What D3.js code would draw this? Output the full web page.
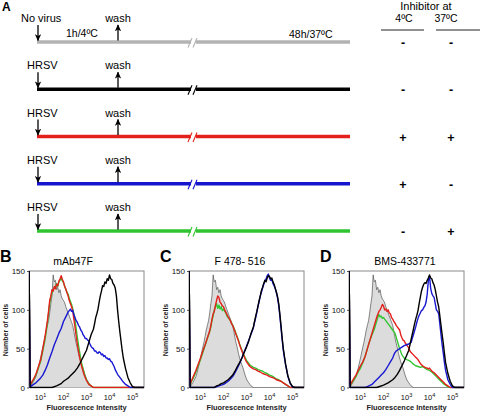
<!DOCTYPE html>
<html><head><meta charset="utf-8">
<script src="https://cdn.jsdelivr.net/npm/d3@7"></script>
<style>body{margin:0;background:#fff}svg{display:block;font-family:"Liberation Sans",Arial,sans-serif}</style>
</head><body><svg id="c" width="480" height="412"></svg>
<script>
// ---------- Panel A data ----------
const rowLabels = ["No virus","HRSV","HRSV","HRSV","HRSV"];
const inhib4 = ["-","-","+","+","-"];
const inhib37 = ["-","-","+","-","+"];
const rowColors = ["#b3b3b3","#000000","#e3201c","#1616cf","#2fc42f"];

// ---------- Panels B-D data ----------
const panelLetters = ["B","C","D"];
const panelTitles = ["mAb47F","F 478- 516","BMS-433771"];
const yTicks = [0,50,100,150];
const xExponents = [1,2,3,4,5];

// [log10 intensity, number of cells]
const control = [[0.55,0],[0.6,3],[0.7,8],[0.8,14],[0.85,19],[0.9,25],[1.0,38],[1.1,52],[1.15,58],[1.2,66],[1.25,74],[1.3,80],[1.35,86],[1.4,96],[1.45,108],[1.5,118],[1.55,145],[1.6,136],[1.65,138],[1.7,126],[1.75,129],[1.8,122],[1.85,126],[1.9,118],[1.95,114],[2.0,112],[2.05,109],[2.1,104],[2.15,100],[2.2,96],[2.25,92],[2.3,88],[2.35,84],[2.4,80],[2.45,72],[2.5,64],[2.55,57],[2.6,51],[2.65,44],[2.7,38],[2.75,33],[2.8,29],[2.85,25],[2.9,20],[2.95,15],[3.0,11],[3.05,8],[3.1,6],[3.15,4],[3.2,2],[3.3,0]];

const blackB = [[0.5,170],[0.55,0],[1.5,0],[1.7,2],[1.9,5],[2.0,8],[2.1,10],[2.2,12],[2.3,15],[2.4,18],[2.5,21],[2.6,25],[2.7,30],[2.8,36],[2.9,42],[3.0,48],[3.1,58],[3.2,68],[3.3,75],[3.35,82],[3.4,90],[3.45,95],[3.5,101],[3.55,110],[3.6,118],[3.65,124],[3.7,131],[3.75,130],[3.8,136],[3.85,134],[3.9,140],[3.95,138],[4.0,145],[4.05,140],[4.1,139],[4.15,134],[4.2,132],[4.25,128],[4.3,118],[4.35,100],[4.4,85],[4.45,72],[4.5,60],[4.55,48],[4.6,38],[4.7,24],[4.8,13],[4.9,6],[5.0,1],[5.1,0],[5.5,0]];
const redB = [[0.5,170],[0.55,3],[0.6,6],[0.7,11],[0.8,17],[0.9,26],[1.0,35],[1.05,42],[1.1,50],[1.15,58],[1.2,66],[1.25,76],[1.3,86],[1.35,98],[1.4,112],[1.45,118],[1.5,126],[1.55,124],[1.6,130],[1.65,127],[1.7,133],[1.75,131],[1.8,137],[1.85,140],[1.9,144],[1.95,139],[2.0,136],[2.05,130],[2.1,127],[2.15,122],[2.2,118],[2.25,112],[2.3,108],[2.35,104],[2.4,99],[2.45,88],[2.5,78],[2.55,66],[2.6,56],[2.65,47],[2.7,39],[2.75,32],[2.8,26],[2.85,21],[2.9,16],[3.0,9],[3.1,4],[3.2,2],[3.3,0],[5.5,0]];
const greenB = [[0.5,170],[0.55,3],[0.6,5],[0.7,10],[0.8,16],[0.9,24],[1.0,33],[1.1,47],[1.2,62],[1.25,72],[1.3,82],[1.35,95],[1.4,108],[1.45,116],[1.5,122],[1.55,126],[1.6,128],[1.65,130],[1.7,134],[1.75,130],[1.8,136],[1.85,138],[1.9,141],[1.95,137],[2.0,135],[2.05,131],[2.1,126],[2.15,123],[2.2,120],[2.25,115],[2.3,111],[2.35,107],[2.4,102],[2.45,95],[2.5,86],[2.55,76],[2.6,65],[2.65,55],[2.7,46],[2.75,37],[2.8,30],[2.85,24],[2.9,18],[3.0,10],[3.1,5],[3.2,2],[3.3,0],[5.5,0]];
const blueB = [[0.5,170],[0.55,0],[0.6,2],[0.7,4],[0.8,6],[0.9,9],[1.0,12],[1.1,16],[1.2,22],[1.3,29],[1.4,38],[1.5,46],[1.6,55],[1.7,62],[1.8,70],[1.9,76],[2.0,85],[2.1,91],[2.2,97],[2.25,99],[2.3,101],[2.35,98],[2.4,99],[2.45,94],[2.5,90],[2.55,86],[2.6,84],[2.65,80],[2.7,78],[2.75,74],[2.8,72],[2.85,68],[2.9,66],[2.95,63],[3.0,63],[3.05,61],[3.1,60],[3.15,56],[3.2,53],[3.25,51],[3.3,50],[3.35,47],[3.4,47],[3.45,45],[3.5,44],[3.55,46],[3.6,45],[3.65,42],[3.7,43],[3.75,40],[3.8,41],[3.85,38],[3.9,38],[3.95,36],[4.0,37],[4.05,34],[4.1,33],[4.15,30],[4.2,27],[4.25,23],[4.3,20],[4.35,17],[4.4,15],[4.5,11],[4.6,7],[4.7,4],[4.8,2],[4.9,0],[5.5,0]];

const blackC = [[0.5,170],[0.55,0],[1.6,0],[1.7,2],[1.8,3],[1.9,5],[2.0,6],[2.1,8],[2.2,10],[2.3,13],[2.4,16],[2.5,21],[2.6,27],[2.7,32],[2.8,38],[2.9,45],[3.0,52],[3.1,60],[3.2,70],[3.3,78],[3.35,85],[3.4,92],[3.45,98],[3.5,105],[3.55,112],[3.6,118],[3.65,125],[3.7,129],[3.75,134],[3.8,138],[3.85,136],[3.9,141],[3.95,144],[4.0,143],[4.05,140],[4.1,141],[4.15,136],[4.2,133],[4.25,128],[4.3,123],[4.35,117],[4.4,108],[4.45,95],[4.5,80],[4.55,64],[4.6,50],[4.65,40],[4.7,30],[4.8,15],[4.9,6],[5.0,1],[5.1,0],[5.5,0]];
const blueC = [[0.5,170],[0.55,0],[1.6,0],[1.8,2],[2.0,4],[2.1,6],[2.2,8],[2.3,11],[2.4,14],[2.5,19],[2.6,25],[2.7,31],[2.8,38],[2.9,46],[3.0,53],[3.1,61],[3.2,69],[3.3,77],[3.35,84],[3.4,90],[3.45,97],[3.5,104],[3.55,111],[3.6,118],[3.65,123],[3.7,128],[3.75,133],[3.8,137],[3.85,140],[3.9,144],[3.95,146],[4.0,141],[4.05,138],[4.1,139],[4.15,134],[4.2,131],[4.25,127],[4.3,122],[4.35,115],[4.4,106],[4.45,92],[4.5,77],[4.55,62],[4.6,48],[4.65,38],[4.7,29],[4.8,14],[4.9,5],[5.0,1],[5.1,0],[5.5,0]];
const redC = [[0.5,170],[0.55,4],[0.6,8],[0.7,15],[0.8,22],[0.9,30],[1.0,38],[1.1,47],[1.2,55],[1.3,64],[1.4,73],[1.45,80],[1.5,88],[1.55,95],[1.6,98],[1.65,106],[1.7,112],[1.75,118],[1.8,116],[1.85,110],[1.9,108],[1.95,105],[2.0,104],[2.05,100],[2.1,97],[2.15,94],[2.2,91],[2.25,89],[2.3,86],[2.35,82],[2.4,80],[2.45,76],[2.5,72],[2.55,68],[2.6,64],[2.65,60],[2.7,55],[2.75,51],[2.8,47],[2.85,43],[2.9,40],[2.95,36],[3.0,33],[3.05,31],[3.1,29],[3.15,27],[3.2,26],[3.25,25],[3.3,24],[3.4,23],[3.5,21],[3.6,20],[3.7,18],[3.8,17],[3.9,16],[4.0,14],[4.1,13],[4.2,12],[4.3,10],[4.4,9],[4.5,8],[4.6,6],[4.7,4],[4.8,2],[4.9,0],[5.5,0]];
const greenC = [[0.5,170],[0.55,3],[0.6,7],[0.7,13],[0.8,20],[0.9,28],[1.0,36],[1.1,45],[1.2,54],[1.3,63],[1.4,72],[1.45,78],[1.5,86],[1.55,92],[1.6,100],[1.65,104],[1.7,108],[1.75,102],[1.8,106],[1.85,101],[1.9,104],[1.95,99],[2.0,101],[2.05,98],[2.1,96],[2.15,92],[2.2,90],[2.25,88],[2.3,86],[2.35,83],[2.4,80],[2.45,77],[2.5,73],[2.55,69],[2.6,65],[2.65,61],[2.7,56],[2.75,52],[2.8,48],[2.85,44],[2.9,41],[2.95,38],[3.0,35],[3.05,33],[3.1,31],[3.15,29],[3.2,28],[3.25,27],[3.3,26],[3.4,25],[3.5,23],[3.6,22],[3.7,21],[3.8,19],[3.9,18],[4.0,16],[4.1,15],[4.2,13],[4.3,11],[4.4,10],[4.5,8],[4.6,6],[4.7,4],[4.8,2],[4.9,0],[5.5,0]];

const blackD = [[0.5,170],[0.55,0],[1.7,0],[1.8,1],[2.0,3],[2.2,6],[2.4,10],[2.5,13],[2.6,17],[2.7,22],[2.8,28],[2.9,34],[3.0,41],[3.1,48],[3.2,62],[3.3,75],[3.35,82],[3.4,88],[3.45,93],[3.5,99],[3.55,108],[3.6,116],[3.65,124],[3.7,129],[3.75,133],[3.8,135],[3.85,134],[3.9,138],[3.95,141],[4.0,145],[4.05,141],[4.1,140],[4.15,135],[4.2,132],[4.25,126],[4.3,118],[4.35,110],[4.4,104],[4.45,92],[4.5,80],[4.55,68],[4.6,57],[4.65,44],[4.7,32],[4.8,18],[4.9,8],[5.0,2],[5.1,0],[5.5,0]];
const blueD = [[0.5,170],[0.55,0],[1.2,0],[1.3,1],[1.5,4],[1.6,7],[1.7,10],[1.8,13],[1.9,16],[2.0,19],[2.1,23],[2.2,28],[2.3,33],[2.4,38],[2.45,42],[2.5,45],[2.55,47],[2.6,48],[2.7,50],[2.8,52],[2.9,54],[3.0,55],[3.1,56],[3.2,58],[3.25,63],[3.3,68],[3.35,73],[3.4,78],[3.45,84],[3.5,89],[3.55,93],[3.6,96],[3.65,99],[3.7,100],[3.75,103],[3.8,105],[3.85,110],[3.9,120],[3.95,138],[4.0,143],[4.05,128],[4.1,121],[4.15,118],[4.2,116],[4.25,108],[4.3,100],[4.35,98],[4.4,95],[4.45,82],[4.5,68],[4.55,55],[4.6,44],[4.65,32],[4.7,22],[4.8,10],[4.9,4],[5.0,0],[5.5,0]];
const redD = [[0.5,170],[0.55,3],[0.6,6],[0.7,11],[0.8,16],[0.9,22],[1.0,28],[1.1,33],[1.2,40],[1.3,50],[1.4,60],[1.5,70],[1.6,80],[1.7,90],[1.8,98],[1.85,100],[1.9,103],[1.95,107],[2.0,105],[2.05,100],[2.1,101],[2.15,98],[2.2,100],[2.25,96],[2.3,95],[2.35,90],[2.4,88],[2.45,85],[2.5,83],[2.55,80],[2.6,78],[2.65,76],[2.7,74],[2.75,68],[2.8,64],[2.85,61],[2.9,60],[2.95,57],[3.0,55],[3.05,53],[3.1,51],[3.15,47],[3.2,45],[3.3,42],[3.4,39],[3.5,36],[3.6,31],[3.7,28],[3.8,26],[3.9,25],[3.95,24],[4.0,25],[4.05,23],[4.1,21],[4.2,19],[4.3,16],[4.4,13],[4.5,10],[4.6,7],[4.7,4],[4.8,2],[4.9,0],[5.5,0]];
const greenD = [[0.5,170],[0.55,3],[0.6,5],[0.7,9],[0.8,14],[0.9,20],[1.0,25],[1.1,32],[1.2,40],[1.3,50],[1.4,60],[1.5,68],[1.6,75],[1.65,80],[1.7,85],[1.75,90],[1.8,94],[1.85,91],[1.9,92],[1.95,89],[2.0,90],[2.05,88],[2.1,86],[2.15,84],[2.2,82],[2.25,80],[2.3,78],[2.35,76],[2.4,74],[2.45,72],[2.5,70],[2.55,65],[2.6,60],[2.65,55],[2.7,50],[2.75,46],[2.8,42],[2.85,40],[2.9,38],[3.0,36],[3.1,35],[3.2,33],[3.3,30],[3.4,28],[3.5,27],[3.6,26],[3.7,27],[3.8,25],[3.9,23],[4.0,22],[4.1,20],[4.2,17],[4.3,14],[4.4,11],[4.5,8],[4.6,5],[4.7,3],[4.8,1],[4.9,0],[5.5,0]];

const panels = [
  {control:control, green:greenB, red:redB, blue:blueB, black:blackB},
  {control:control, green:greenC, red:redC, blue:blueC, black:blackC},
  {control:control, green:greenD, red:redD, blue:blueD, black:blackD}
];

// ---------- drawing ----------
const svg = d3.select("#c");
const FONT = '"Liberation Sans", Arial, sans-serif';

svg.append("defs").append("marker")
  .attr("id","ah").attr("viewBox","0 0 10 10").attr("refX",9).attr("refY",5)
  .attr("markerUnits","userSpaceOnUse").attr("markerWidth",7).attr("markerHeight",7)
  .attr("orient","auto")
  .append("path").attr("d","M0,0.5 L10,5 L0,9.5 L2.5,5 Z").attr("fill","#000");

// Panel A
const A = svg.append("g");
A.append("text").attr("x",2).attr("y",11).attr("font-size",12).attr("font-weight","bold").text("A");
const rowY = d3.scalePoint().domain(d3.range(rowLabels.length)).range([42,231]);
const tx = {start:37, wash:118, brk:193, end:350, arrow:38};

A.append("text").attr("x",66).attr("y",37).attr("font-size",10.5).text("1h/4ºC");
A.append("text").attr("x",289).attr("y",38).attr("font-size",10.5).text("48h/37ºC");
A.append("text").attr("x",426).attr("y",10).attr("font-size",11).attr("text-anchor","middle").text("Inhibitor at");
A.append("text").attr("x",404).attr("y",22).attr("font-size",10.5).attr("text-anchor","middle").text("4ºC");
A.append("text").attr("x",446).attr("y",22).attr("font-size",10.5).attr("text-anchor","middle").text("37ºC");
A.append("line").attr("x1",381).attr("x2",424).attr("y1",30).attr("y2",30).attr("stroke","#222").attr("stroke-width",1);
A.append("line").attr("x1",436).attr("x2",480).attr("y1",30).attr("y2",30).attr("stroke","#222").attr("stroke-width",1);

rowLabels.forEach((lab,i)=>{
  const y = rowY(i), c = rowColors[i];
  const g = A.append("g");
  g.append("line").attr("x1",tx.start).attr("x2",tx.brk-2).attr("y1",y).attr("y2",y).attr("stroke",c).attr("stroke-width",3.5);
  g.append("line").attr("x1",tx.brk+3).attr("x2",tx.end).attr("y1",y).attr("y2",y).attr("stroke",c).attr("stroke-width",3.5);
  [-4,1].forEach(o=>{
    g.append("line").attr("x1",tx.brk+o-1).attr("y1",y+5.5).attr("x2",tx.brk+o+3).attr("y2",y-4).attr("stroke",c).attr("stroke-width",1.1);
  });
  g.append("line").attr("x1",tx.arrow).attr("x2",tx.arrow).attr("y1",y-17).attr("y2",y-1.5)
    .attr("stroke","#000").attr("stroke-width",1.3).attr("marker-end","url(#ah)");
  g.append("line").attr("x1",tx.wash).attr("x2",tx.wash).attr("y1",y-1.5).attr("y2",y-17)
    .attr("stroke","#000").attr("stroke-width",1.3).attr("marker-end","url(#ah)");
  g.append("text").attr("x", i===0?21:27).attr("y",y-20).attr("font-size",11).text(lab);
  g.append("text").attr("x",tx.wash).attr("y",y-20).attr("font-size",11).attr("text-anchor","middle").text("wash");
  g.append("text").attr("x",403).attr("y",y+5).attr("font-size",12.5).attr("font-weight","bold").attr("text-anchor","middle").text(inhib4[i]);
  g.append("text").attr("x",451).attr("y",y+5).attr("font-size",12.5).attr("font-weight","bold").attr("text-anchor","middle").text(inhib37[i]);
});

// Panels B-D
const offsets = [0,160,320];
const titleX = [73,80,85];
const x = d3.scaleLog().domain([Math.pow(10,0.5),Math.pow(10,5.5)]).range([29,144]);
const y = d3.scaleLinear().domain([0,150]).range([387.5,271]);
const line = d3.line().x(d=>x(Math.pow(10,d[0]))).y(d=>y(d[1]));
const area = d3.area().x(d=>x(Math.pow(10,d[0]))).y0(y(0)).y1(d=>y(d[1]));

panels.forEach((p,k)=>{
  const g = svg.append("g").attr("transform",`translate(${offsets[k]},0)`);
  g.append("text").attr("x",0).attr("y",262).attr("font-size",16).attr("font-weight","bold").text(panelLetters[k]);
  g.append("text").attr("x",titleX[k]).attr("y",265).attr("font-size",10.5).attr("text-anchor","middle").text(panelTitles[k]);

  const cid = "clip"+k;
  g.append("clipPath").attr("id",cid).append("rect").attr("x",29).attr("y",271).attr("width",115).attr("height",117.5);
  g.append("rect").attr("x",29).attr("y",271).attr("width",115).attr("height",116.5)
    .attr("fill","none").attr("stroke","#8a8a8a").attr("stroke-width",1);

  const pg = g.append("g").attr("clip-path",`url(#${cid})`);
  pg.append("path").datum(p.control).attr("d",area).attr("fill","#dcdcdc");
  pg.append("path").datum(p.control).attr("d",line).attr("fill","none").attr("stroke","#555").attr("stroke-width",0.7);
  const series = [["green","#33c633"],["red","#e3201c"],["blue","#1818d2"],["black","#000"]];
  series.forEach(([key,col])=>{
    pg.append("path").datum(p[key]).attr("d",line).attr("fill","none").attr("stroke",col)
      .attr("stroke-width",1.4).attr("stroke-linejoin","round");
  });

  // y axis
  const ya = g.append("g").attr("transform","translate(29,0)")
    .call(d3.axisLeft(y).tickValues(yTicks).tickSize(2).tickPadding(2));
  ya.select(".domain").remove();
  ya.selectAll("text").attr("font-family",FONT).attr("font-size",8).attr("fill","#111");
  ya.selectAll("line").attr("stroke","#555");

  // x axis labels
  const xa = g.append("g");
  xExponents.forEach(e=>{
    const t = xa.append("text").attr("x",x(Math.pow(10,e))).attr("y",400).attr("font-size",7.5).attr("text-anchor","middle").attr("fill","#111");
    t.append("tspan").text("10");
    t.append("tspan").attr("dy",-3.5).attr("font-size",5.5).text(e);
  });

  g.append("text").attr("x",86.5).attr("y",410).attr("font-size",7.4).attr("font-weight","bold").attr("text-anchor","middle").attr("fill","#222").text("Fluorescence Intensity");
  g.append("text").attr("transform","translate(8,330) rotate(-90)").attr("font-size",7).attr("font-weight","bold").attr("text-anchor","middle").attr("fill","#222").text("Number of cells");
});
</script></body></html>
